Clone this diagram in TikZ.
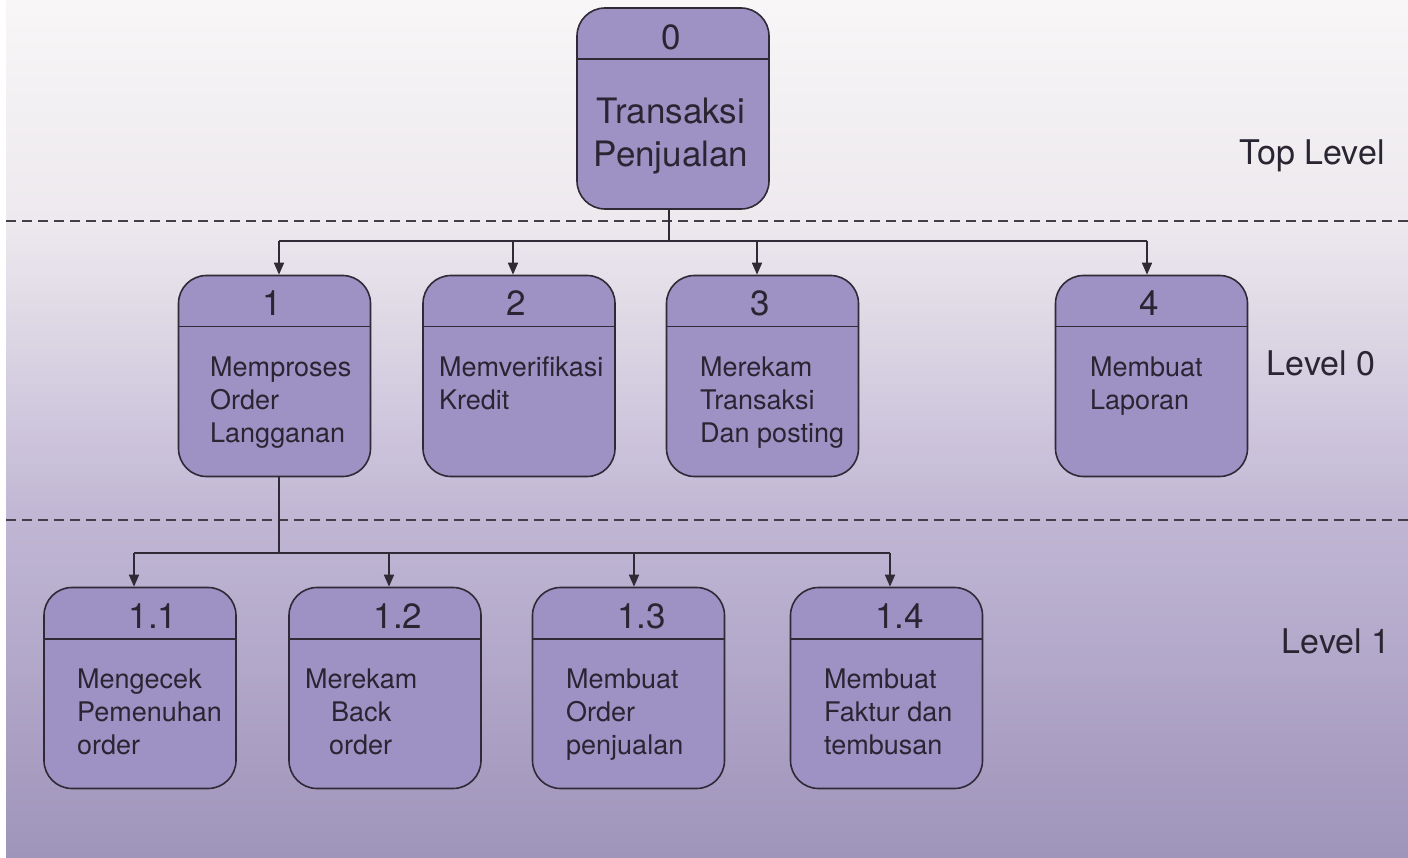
\documentclass[tikz,border=0pt]{standalone}
\usepackage{fontspec}
\setmainfont{TeX Gyre Heros}
\usetikzlibrary{arrows.meta}
\definecolor{boxc}{HTML}{9E91C4}
\definecolor{linec}{HTML}{2E2A36}
\definecolor{txtc}{HTML}{2A2532}
\definecolor{bgA}{HTML}{F8F6F7}
\definecolor{bgB}{HTML}{EDE9EE}
\definecolor{bgC}{HTML}{C0B6D4}
\definecolor{bgD}{HTML}{9F94BA}
\tikzset{
  pbox/.style={draw=linec, line width=1.6pt, fill=boxc, rounded corners=28pt,
    minimum width=192pt, minimum height=201pt, inner sep=0pt},
  hdr/.style={draw=linec, line width=1.6pt},
  numtxt/.style={inner sep=0pt, text=txtc, font=\fontsize{35}{40}\selectfont},
  bodytxt/.style={inner sep=0pt, text=txtc, align=left, anchor=north west,
    font=\fontsize{27}{33}\selectfont},
  lvltxt/.style={inner sep=0pt, text=txtc, anchor=base, font=\fontsize{34}{40}\selectfont},
  conn/.style={draw=linec, line width=1.6pt},
  arr/.style={conn, -{Triangle[length=12pt,width=10pt]}},
  sep/.style={draw=linec!90, line width=1.6pt, dash pattern=on 10pt off 6pt}
}
\begin{document}
\begin{tikzpicture}[x=1pt,y=-1pt]
\useasboundingbox (0,0) rectangle (1408,858);
% background
\fill[white] (0,0) rectangle (1408,858);
\shade[top color=bgA, bottom color=bgB] (6,0) rectangle (1408,221);
\shade[top color=bgB, bottom color=bgC] (6,221) rectangle (1408,520);
\shade[top color=bgC, bottom color=bgD] (6,520) rectangle (1408,858);
% separators
\draw[sep] (6,221) -- (1408,221);
\draw[sep] (6,520) -- (1408,520);
% boxes
\node[pbox] (b0) at (673,108.5) {};
\node[pbox] (b1) at (274.5,376) {};
\node[pbox] (b2) at (519,376) {};
\node[pbox] (b3) at (762.5,376) {};
\node[pbox] (b4) at (1151.5,376) {};
\node[pbox] (b11) at (140,688) {};
\node[pbox] (b12) at (385,688) {};
\node[pbox] (b13) at (628.5,688) {};
\node[pbox] (b14) at (886.5,688) {};
\foreach \b in {b0,b1,b2,b3,b4,b11,b12,b13,b14}{
  \draw[hdr] ([yshift=-52pt]\b.north west) -- ([yshift=-52pt]\b.north east);
}
% numbers
\node[numtxt] (n0) at (671,37) {0};
\node[numtxt] (n1) at (272,303) {1};
\node[numtxt] (n2) at (516.5,303) {2};
\node[numtxt] (n3) at (760,303) {3};
\node[numtxt] (n4) at (1149,303) {4};
\node[numtxt] (n11) at (153,616) {1.1};
\node[numtxt] (n12) at (398,616) {1.2};
\node[numtxt] (n13) at (641.5,616) {1.3};
\node[numtxt] (n14) at (899.5,616) {1.4};
% texts
\node[inner sep=0pt, text=txtc, align=center, anchor=north, font=\fontsize{35}{43}\selectfont] (t0) at (671,97.5) {Transaksi\\Penjualan};
\node[bodytxt] (t1) at (210,356.5) {Memproses\\Order\\Langganan};
\node[bodytxt] (t2) at (439,356.5) {Memverifikasi\\Kredit};
\node[bodytxt] (t3) at (700,356.5) {Merekam\\Transaksi\\Dan posting};
\node[bodytxt] (t4) at (1090,356.5) {Membuat\\Laporan};
\node[bodytxt] (t11) at (77,668.5) {Mengecek\\Pemenuhan\\order};
\node[bodytxt] (t12) at (305,668.5) {Merekam\\\hspace*{26pt}Back\\\hspace*{24pt}order};
\node[bodytxt] (t13) at (566,668.5) {Membuat\\Order\\penjualan};
\node[bodytxt] (t14) at (824,668.5) {Membuat\\Faktur dan\\tembusan};
% level labels
\node[lvltxt] (l0) at (1312,165) {Top Level};
\node[lvltxt] (l1) at (1321,376) {Level 0};
\node[lvltxt] (l2) at (1336,653) {Level 1};
% connectors top -> level 0
\coordinate (j0) at (669,241);
\coordinate (a1) at (279,241);
\coordinate (a2) at (513,241);
\coordinate (a3) at (757,241);
\coordinate (a4) at (1147,241);
\draw[conn] (b0.south -| j0) -- (j0);
\draw[conn] (a1) -- (a4);
\draw[arr] (a1) -- (a1 |- b1.north);
\draw[arr] (a2) -- (a2 |- b2.north);
\draw[arr] (a3) -- (a3 |- b3.north);
\draw[arr] (a4) -- (a4 |- b4.north);
% connectors level 0 -> level 1
\coordinate (j1) at (279,553);
\coordinate (c1) at (134,553);
\coordinate (c2) at (389,553);
\coordinate (c3) at (634,553);
\coordinate (c4) at (890,553);
\draw[conn] (b1.south -| j1) -- (j1);
\draw[conn] (c1) -- (c4);
\draw[arr] (c1) -- (c1 |- b11.north);
\draw[arr] (c2) -- (c2 |- b12.north);
\draw[arr] (c3) -- (c3 |- b13.north);
\draw[arr] (c4) -- (c4 |- b14.north);
\end{tikzpicture}
\end{document}
